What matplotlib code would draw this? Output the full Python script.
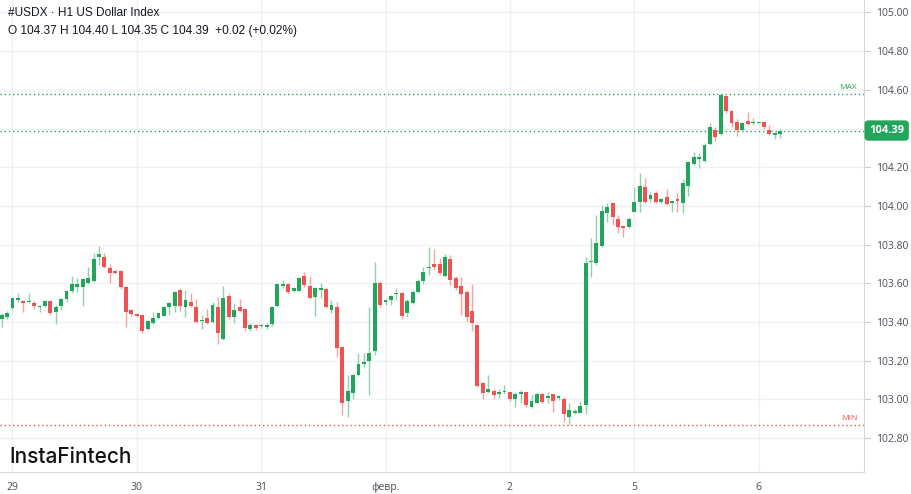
import matplotlib
matplotlib.use("Agg")
import matplotlib.pyplot as plt
from matplotlib.transforms import blended_transform_factory
import numpy as np

# ---------------- data (H1 candles, #USDX) ----------------
opens = [103.415, 103.426, 103.473, 103.515, 103.510, 103.504, 103.497, 103.478, 103.483, 103.509,
         103.452, 103.483, 103.520, 103.563, 103.583, 103.583, 103.602, 103.612, 103.737, 103.737,
         103.680, 103.664, 103.664, 103.580, 103.463, 103.436, 103.435, 103.363, 103.397, 103.420,
         103.432, 103.478, 103.483, 103.566, 103.476, 103.506, 103.480, 103.405, 103.420, 103.402,
         103.480, 103.313, 103.535, 103.424, 103.476, 103.468, 103.363, 103.385, 103.379, 103.376,
         103.390, 103.485, 103.587, 103.595, 103.562, 103.562, 103.638, 103.587, 103.531, 103.566,
         103.570, 103.463, 103.480, 103.273, 102.990, 103.035, 103.127, 103.183, 103.200, 103.252,
         103.604, 103.502, 103.514, 103.545, 103.549, 103.446, 103.500, 103.554, 103.614, 103.678,
         103.699, 103.699, 103.640, 103.726, 103.629, 103.587, 103.557, 103.457, 103.385, 103.087,
         103.040, 103.045, 103.027, 103.040, 103.037, 103.003, 103.028, 103.037, 102.963, 102.984,
         103.028, 103.006, 103.028, 103.006, 103.003, 102.911, 102.932, 102.932, 102.972, 103.710,
         103.704, 103.793, 103.965, 104.014, 103.933, 103.897, 103.893, 103.971, 104.022, 104.100,
         104.035, 104.069, 104.022, 104.045, 104.017, 104.036, 104.014, 104.103, 104.215, 104.245,
         104.233, 104.320, 104.393, 104.372, 104.568, 104.491, 104.436, 104.393, 104.441, 104.427,
         104.427, 104.436, 104.393, 104.367, 104.370]
highs = [103.447, 103.457, 103.526, 103.550, 103.514, 103.550, 103.510, 103.488, 103.514, 103.514,
         103.488, 103.525, 103.566, 103.638, 103.628, 103.628, 103.686, 103.757, 103.795, 103.757,
         103.700, 103.670, 103.669, 103.587, 103.468, 103.440, 103.440, 103.410, 103.454, 103.447,
         103.485, 103.504, 103.560, 103.578, 103.566, 103.550, 103.520, 103.437, 103.468, 103.506,
         103.531, 103.587, 103.549, 103.499, 103.520, 103.468, 103.395, 103.390, 103.390, 103.397,
         103.485, 103.604, 103.618, 103.600, 103.580, 103.635, 103.657, 103.638, 103.583, 103.600,
         103.578, 103.514, 103.506, 103.276, 103.127, 103.139, 103.239, 103.239, 103.480, 103.712,
         103.614, 103.520, 103.540, 103.575, 103.557, 103.518, 103.566, 103.621, 103.686, 103.787,
         103.776, 103.730, 103.752, 103.747, 103.638, 103.635, 103.566, 103.597, 103.385, 103.092,
         103.127, 103.056, 103.054, 103.075, 103.040, 103.040, 103.050, 103.040, 103.028, 103.040,
         103.035, 103.040, 103.030, 103.022, 103.015, 102.980, 102.950, 102.994, 103.738, 103.833,
         103.953, 104.005, 104.014, 104.017, 103.953, 103.897, 103.945, 104.097, 104.169, 104.143,
         104.074, 104.079, 104.040, 104.086, 104.027, 104.066, 104.138, 104.234, 104.281, 104.275,
         104.324, 104.430, 104.410, 104.579, 104.574, 104.496, 104.448, 104.435, 104.487, 104.453,
         104.436, 104.436, 104.419, 104.385, 104.400]
lows = [103.375, 103.416, 103.463, 103.504, 103.452, 103.500, 103.470, 103.452, 103.478, 103.437,
        103.390, 103.463, 103.504, 103.550, 103.556, 103.483, 103.597, 103.607, 103.695, 103.680,
        103.602, 103.650, 103.570, 103.375, 103.432, 103.425, 103.345, 103.360, 103.390, 103.415,
        103.430, 103.437, 103.454, 103.458, 103.426, 103.480, 103.395, 103.364, 103.390, 103.395,
        103.285, 103.307, 103.414, 103.395, 103.450, 103.356, 103.356, 103.360, 103.370, 103.363,
        103.380, 103.480, 103.575, 103.545, 103.557, 103.560, 103.583, 103.518, 103.431, 103.523,
        103.471, 103.446, 103.221, 102.920, 102.910, 103.000, 103.121, 103.170, 103.023, 103.230,
        103.480, 103.490, 103.488, 103.514, 103.414, 103.425, 103.494, 103.549, 103.595, 103.643,
        103.669, 103.643, 103.635, 103.592, 103.566, 103.437, 103.402, 103.356, 103.066, 103.004,
        103.032, 103.000, 103.010, 103.028, 102.990, 102.963, 102.980, 102.963, 102.955, 102.980,
        102.980, 102.980, 102.937, 102.998, 102.885, 102.866, 102.925, 102.930, 102.925, 103.632,
        103.695, 103.787, 103.919, 103.902, 103.862, 103.841, 103.885, 103.967, 103.971, 104.017,
        104.022, 104.014, 104.014, 104.005, 103.971, 103.971, 103.962, 104.052, 104.212, 104.195,
        104.229, 104.315, 104.337, 104.367, 104.482, 104.410, 104.362, 104.390, 104.418, 104.420,
        104.427, 104.400, 104.367, 104.345, 104.350]
closes = [103.437, 103.447, 103.525, 103.525, 103.499, 103.509, 103.483, 103.480, 103.509, 103.447,
          103.478, 103.520, 103.560, 103.595, 103.595, 103.623, 103.628, 103.726, 103.752, 103.685,
          103.654, 103.654, 103.580, 103.452, 103.442, 103.434, 103.354, 103.406, 103.420, 103.447,
          103.480, 103.499, 103.557, 103.483, 103.514, 103.483, 103.402, 103.407, 103.395, 103.488,
          103.345, 103.523, 103.424, 103.463, 103.458, 103.368, 103.385, 103.371, 103.381, 103.385,
          103.480, 103.597, 103.597, 103.554, 103.575, 103.630, 103.592, 103.523, 103.578, 103.578,
          103.480, 103.488, 103.265, 102.984, 103.045, 103.127, 103.183, 103.196, 103.242, 103.604,
          103.488, 103.514, 103.535, 103.552, 103.432, 103.511, 103.557, 103.614, 103.660, 103.686,
          103.686, 103.652, 103.738, 103.618, 103.575, 103.545, 103.425, 103.394, 103.071, 103.035,
          103.054, 103.023, 103.040, 103.045, 103.000, 103.027, 103.040, 102.970, 102.994, 103.028,
          102.989, 103.018, 102.994, 103.018, 102.925, 102.945, 102.942, 102.966, 103.707, 103.717,
          103.807, 103.976, 103.996, 103.945, 103.893, 103.885, 103.933, 104.019, 104.105, 104.022,
          104.057, 104.022, 104.036, 104.009, 104.027, 104.026, 104.117, 104.229, 104.255, 104.250,
          104.315, 104.407, 104.355, 104.574, 104.492, 104.430, 104.393, 104.427, 104.424, 104.430,
          104.436, 104.407, 104.372, 104.379, 104.390]

day_labels = ["29", "30", "31", "февр.", "2", "5", "6"]
day_tick_index = [2, 25, 48, 71, 94, 117, 140]
grid_levels = [102.80, 103.00, 103.20, 103.40, 103.60, 103.80, 104.00, 104.20, 104.40, 104.60, 104.80, 105.00]
price_ticks = [102.80, 103.00, 103.20, 103.40, 103.60, 103.80, 104.00, 104.20, 104.60, 104.80, 105.00]
last_price = 104.39
max_price = 104.58
min_price = 102.87

header1 = "#USDX · H1 US Dollar Index"
header2 = "O 104.37 H 104.40 L 104.35 C 104.39  +0.02 (+0.02%)"

# ---------------- styling ----------------
GREEN = "#22a65c"
RED = "#f05252"
GREEN_W = "#8fd3ab"
RED_W = "#f7a3a3"
GRID = "#f0f1f4"
TXT = "#131722"
AX_TXT = "#4a4e59"

W, H = 912, 494
fig = plt.figure(figsize=(W / 100, H / 100), dpi=100)
fig.patch.set_facecolor("white")
plot_right = 864
plot_bottom = 472
ax = fig.add_axes([0, (H - plot_bottom) / H, plot_right / W, plot_bottom / H])

o = np.array(opens); h = np.array(highs); l = np.array(lows); c = np.array(closes)
n = len(o)
x = np.arange(n)
up = c >= o

# wicks
ax.vlines(x[up], l[up], h[up], color=GREEN_W, lw=1.0, zorder=3)
ax.vlines(x[~up], l[~up], h[~up], color=RED_W, lw=1.0, zorder=3)
# bodies
bottoms = np.minimum(o, c)
heights = np.maximum(np.abs(c - o), 0.006)
ax.bar(x[up], heights[up], bottom=bottoms[up], width=0.72, color=GREEN, zorder=4, linewidth=0)
ax.bar(x[~up], heights[~up], bottom=bottoms[~up], width=0.72, color=RED, zorder=4, linewidth=0)

ax.set_xlim(-0.31, 159.5)
ax.set_ylim(102.6253, 105.0646)

# grid
for t in grid_levels:
    ax.axhline(t, color=GRID, lw=1.0, zorder=0)
for t in day_tick_index:
    ax.axvline(t, color=GRID, lw=1.0, zorder=0)

# spines & ticks
for s in ["top", "left"]:
    ax.spines[s].set_visible(False)
ax.spines["right"].set_color("#d6d8de")
ax.spines["bottom"].set_color("#d6d8de")
ax.yaxis.tick_right()
ax.set_yticks(price_ticks)
ax.set_yticklabels([f"{t:.2f}" for t in price_ticks])
ax.tick_params(axis="y", length=4, color="#c8cbd2", labelsize=7.5, labelcolor=AX_TXT, pad=5)
ax.set_xticks(day_tick_index)
ax.set_xticklabels(day_labels)
ax.tick_params(axis="x", length=0, labelsize=7.5, labelcolor=AX_TXT, pad=7)
for lab in ax.get_xticklabels() + ax.get_yticklabels():
    lab.set_family(["Open Sans", "DejaVu Sans"])

# reference lines
ax.axhline(max_price, color=GREEN, lw=1.0, ls=(0, (1, 2)), zorder=2)
ax.axhline(last_price, color=GREEN, lw=1.0, ls=(0, (1, 2)), zorder=2)
ax.axhline(min_price, color=RED, lw=1.0, ls=(0, (1, 2)), zorder=2)
tr = blended_transform_factory(ax.transAxes, ax.transData)
ax.text(0.992, max_price + 0.012, "MAX", transform=tr, ha="right", va="bottom",
        color=GREEN, fontsize=6, family="Open Sans")
ax.text(0.992, min_price + 0.012, "MIN", transform=tr, ha="right", va="bottom",
        color=RED, fontsize=6, family="Open Sans")

# last price label
ax.text(1.006, last_price, f"{last_price:.2f}", transform=tr, ha="left", va="center",
        color="white", fontsize=8, fontweight="bold", family="Open Sans", zorder=10, clip_on=False,
        bbox=dict(boxstyle="round,pad=0.42,rounding_size=0.35", fc=GREEN, ec="none"))

# header
fig.text(8 / W, 1 - 13 / H, header1, ha="left", va="center", color=TXT, fontsize=8.6,
         family=["Liberation Sans", "DejaVu Sans"])
fig.text(8 / W, 1 - 31 / H, header2, ha="left", va="center", color=TXT, fontsize=8.6,
         family=["Liberation Sans", "DejaVu Sans"])

# logo
fig.text(9 / W, 1 - 457 / H, "InstaFintech", ha="left", va="center", color="#111111",
         fontsize=15, family=["Inter", "DejaVu Sans"], fontweight="medium")

fig.savefig("out.png", dpi=100, facecolor="white")
